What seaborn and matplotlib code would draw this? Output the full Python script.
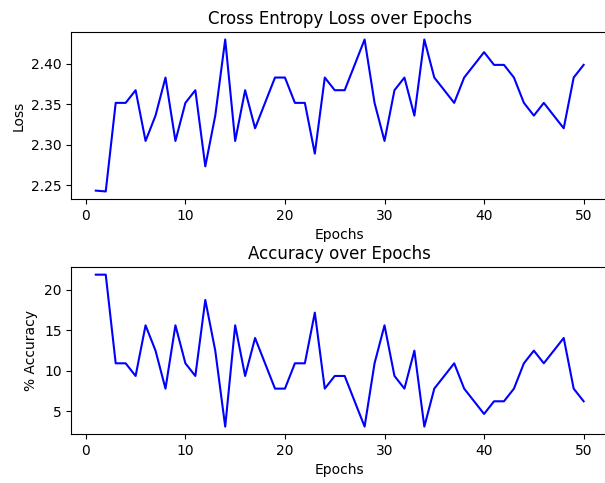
import matplotlib
matplotlib.use('Agg')
import matplotlib.pyplot as plt
import pandas as pd
import seaborn as sns

epochs = list(range(1, 51))

# % accuracy per epoch
accuracy = [21.875, 21.875, 10.9375, 10.9375, 9.375, 15.625, 12.5, 7.8125, 15.625, 10.9375,
            9.375, 18.75, 12.5, 3.125, 15.625, 9.375, 14.0625, 10.9375, 7.8125, 7.8125,
            10.9375, 10.9375, 17.1875, 7.8125, 9.375, 9.375, 6.25, 3.125, 10.9375, 15.625,
            9.375, 7.8125, 12.5, 3.125, 7.8125, 9.375, 10.9375, 7.8125, 6.25, 4.6875,
            6.25, 6.25, 7.8125, 10.9375, 12.5, 10.9375, 12.5, 14.0625, 7.8125, 6.25]

# cross entropy loss per epoch
loss = [2.2435, 2.2425, 2.3516, 2.3516, 2.3672, 2.3047, 2.3359, 2.3828, 2.3047, 2.3516,
        2.3672, 2.2734, 2.3359, 2.4297, 2.3047, 2.3672, 2.3203, 2.3516, 2.3828, 2.3828,
        2.3516, 2.3516, 2.2891, 2.3828, 2.3672, 2.3672, 2.3984, 2.4297, 2.3516, 2.3047,
        2.3672, 2.3828, 2.3359, 2.4297, 2.3828, 2.3672, 2.3516, 2.3828, 2.3984, 2.4141,
        2.3984, 2.3984, 2.3828, 2.3516, 2.3359, 2.3516, 2.3359, 2.3203, 2.3828, 2.3984]

df = pd.DataFrame({'epoch': epochs, 'loss': loss, 'acc': accuracy})

fig, axes = plt.subplots(2, 1, figsize=(6.05, 4.83), dpi=100)
# the right spine sits just past the image edge, as in the reference
fig.subplots_adjust(left=0.118, right=1.005, top=0.934, bottom=0.101, hspace=0.407)

# Loss
sns.lineplot(x='epoch', y='loss', data=df, ax=axes[0], color='blue', linewidth=1.5)
axes[0].set_title("Cross Entropy Loss over Epochs")
axes[0].set_xlabel("Epochs")
axes[0].set_ylabel("Loss")
axes[0].set_xlim(-1.45, 52.45)

# Accuracy
sns.lineplot(x='epoch', y='acc', data=df, ax=axes[1], color='blue', linewidth=1.5)
axes[1].set_title("Accuracy over Epochs")
axes[1].set_xlabel("Epochs")
axes[1].set_ylabel("% Accuracy")
axes[1].set_xlim(-1.45, 52.45)

fig.savefig('out.png', dpi=100)
